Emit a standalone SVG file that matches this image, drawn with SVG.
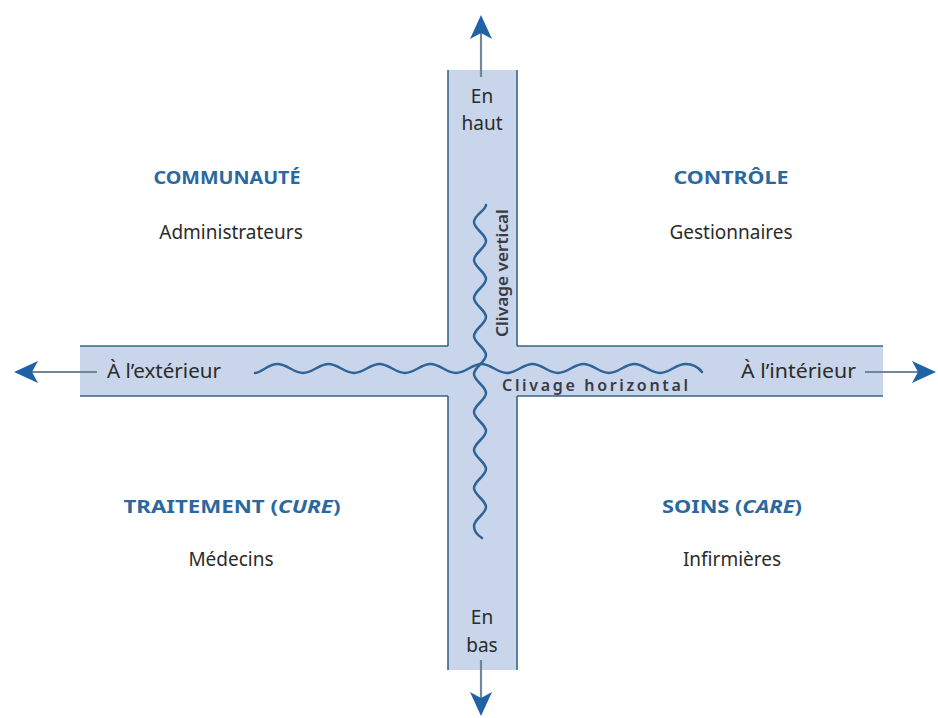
<svg xmlns="http://www.w3.org/2000/svg" width="938" height="718" viewBox="0 0 938 718">
<style>
  .band{fill:#c8d5ea;stroke:none}
  .edge{stroke:#3a6488;stroke-width:1.6;fill:none}
  .arr{stroke:#6f8798;stroke-width:2.2;fill:none;marker-end:url(#head)}
  .wave{stroke:#2f6498;stroke-width:2.5;fill:none;stroke-linecap:round}
  .lbl{font-family:"Noto Sans","Liberation Sans",sans-serif;font-size:19px;fill:#2b2b2b}
  .ttl{font-family:"Noto Sans","Liberation Sans",sans-serif;font-size:18px;font-weight:bold;fill:#2a68a0}
  .clv{font-family:"Noto Sans","Liberation Sans",sans-serif;font-size:16px;font-weight:600;fill:#3a3a44}
</style>
<defs>
  <marker id="head" markerUnits="userSpaceOnUse" viewBox="0 0 24 22" markerWidth="24" markerHeight="22" refX="13" refY="11" orient="auto">
    <path d="M0,0 L24,11 L0,22 L6,11 Z" fill="#1f63a6"/>
  </marker>
</defs>
<rect width="938" height="718" fill="#ffffff"/>
<g id="axes">
  <rect class="band" x="448" y="70" width="69" height="600"/>
  <rect class="band" x="80" y="346" width="803" height="50"/>
  <path class="edge" d="M448,70 V346 M517,70 V346 M448,396 V670 M517,396 V670 M80,346 H448 M517,346 H883 M80,396 H448 M517,396 H883"/>
</g>
<g id="connectors">
  <line class="arr" x1="481" y1="77" x2="481" y2="26"/>
  <line class="arr" x1="481" y1="660" x2="481" y2="705"/>
  <line class="arr" x1="97" y1="372" x2="25" y2="372"/>
  <line class="arr" x1="865" y1="372" x2="925" y2="372"/>
  <path id="wave-h" class="wave" d="M255,373 C261,373 268.2,364 277.5,364 S293.7,373 303,373 S319.2,364 328.5,364 S344.7,373 354,373 S370.2,364 379.5,364 S395.7,373 405,373 S421.2,364 430.5,364 S446.7,373 456,373 S472.2,364 481.5,364 S497.7,373 507,373 S523.2,364 532.5,364 S548.7,373 558,373 S574.2,364 583.5,364 S599.7,373 609,373 S625.2,364 634.5,364 S650.7,373 660,373 S676.2,364 685.5,364 Q696,364 702,372"/>
  <path id="wave-v" class="wave" d="M486,205 C486,210 474,215.1 474,222 S486,234.1 486,241 S474,253.1 474,260 S486,272.1 486,279 S474,291.1 474,298 S486,310.1 486,317 S474,329.1 474,336 S486,348.1 486,355 S474,367.1 474,374 S486,386.1 486,393 S474,405.1 474,412 S486,424.1 486,431 S474,443.1 474,450 S486,462.1 486,469 S474,481.1 474,488 S486,500.1 486,507 S474,519.1 474,526 Q474,533 482,538"/>
</g>
<g id="en-haut">
  <text class="lbl" x="482" y="103" text-anchor="middle">En</text>
  <text class="lbl" x="482" y="130" text-anchor="middle">haut</text>
</g>
<g id="en-bas">
  <text class="lbl" x="482" y="624" text-anchor="middle">En</text>
  <text class="lbl" x="482" y="652" text-anchor="middle">bas</text>
</g>
<g id="exterieur">
  <text class="lbl" x="107" y="378" textLength="114" lengthAdjust="spacingAndGlyphs">À l’extérieur</text>
</g>
<g id="interieur">
  <text class="lbl" x="741" y="378" textLength="115" lengthAdjust="spacingAndGlyphs">À l’intérieur</text>
</g>
<g id="clivage-horizontal">
  <text class="clv" x="502" y="391" textLength="186" lengthAdjust="spacing">Clivage horizontal</text>
</g>
<g id="clivage-vertical">
  <text class="clv" transform="translate(508,337) rotate(-90)" x="0" y="0" font-size="17" font-weight="500" textLength="128" lengthAdjust="spacingAndGlyphs">Clivage vertical</text>
</g>
<g id="communaute">
  <text class="ttl" x="227" y="184" text-anchor="middle" textLength="147" lengthAdjust="spacingAndGlyphs">COMMUNAUTÉ</text>
  <text class="lbl" x="231" y="239" text-anchor="middle">Administrateurs</text>
</g>
<g id="controle">
  <text class="ttl" x="731" y="184" text-anchor="middle" textLength="115" lengthAdjust="spacingAndGlyphs">CONTRÔLE</text>
  <text class="lbl" x="731" y="239" text-anchor="middle">Gestionnaires</text>
</g>
<g id="traitement">
  <text class="ttl" x="232" y="513" text-anchor="middle" textLength="217" lengthAdjust="spacingAndGlyphs">TRAITEMENT (<tspan font-style="italic">CURE</tspan>)</text>
  <text class="lbl" x="231" y="566" text-anchor="middle">Médecins</text>
</g>
<g id="soins">
  <text class="ttl" x="732" y="513" text-anchor="middle" textLength="140" lengthAdjust="spacingAndGlyphs">SOINS (<tspan font-style="italic">CARE</tspan>)</text>
  <text class="lbl" x="732" y="566" text-anchor="middle">Infirmières</text>
</g>
</svg>
